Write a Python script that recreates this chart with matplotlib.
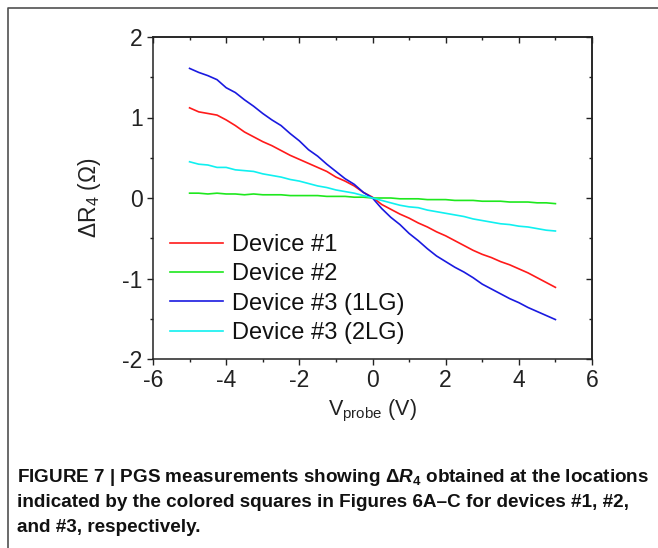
import matplotlib
matplotlib.use("Agg")
import matplotlib.pyplot as plt
from matplotlib.ticker import MultipleLocator
from matplotlib.lines import Line2D

# ---------------- data ----------------
v_probe = [-5.00, -4.75, -4.50, -4.25, -4.00, -3.75, -3.50, -3.25, -3.00, -2.75,
           -2.50, -2.25, -2.00, -1.75, -1.50, -1.25, -1.00, -0.75, -0.50, -0.25,
           0.00, 0.25, 0.50, 0.75, 1.00, 1.25, 1.50, 1.75, 2.00, 2.25,
           2.50, 2.75, 3.00, 3.25, 3.50, 3.75, 4.00, 4.25, 4.50, 4.75, 5.00]

device1 = [1.12, 1.07, 1.05, 1.03, 0.97, 0.90, 0.82, 0.76, 0.70, 0.65,
           0.59, 0.53, 0.48, 0.43, 0.38, 0.33, 0.26, 0.21, 0.15, 0.07,
           0.01, -0.08, -0.14, -0.20, -0.25, -0.31, -0.36, -0.42, -0.47, -0.53,
           -0.59, -0.65, -0.70, -0.74, -0.79, -0.83, -0.88, -0.93, -0.99, -1.05, -1.11]

device2 = [0.06, 0.06, 0.05, 0.06, 0.05, 0.05, 0.04, 0.05, 0.04, 0.04,
           0.04, 0.03, 0.03, 0.03, 0.03, 0.02, 0.02, 0.02, 0.01, 0.01,
           0.00, 0.00, 0.00, -0.01, -0.01, -0.01, -0.02, -0.02, -0.02, -0.03,
           -0.03, -0.03, -0.04, -0.04, -0.04, -0.05, -0.05, -0.05, -0.06, -0.06, -0.07]

device3_1lg = [1.61, 1.56, 1.52, 1.47, 1.37, 1.31, 1.22, 1.14, 1.05, 0.97,
               0.90, 0.80, 0.71, 0.60, 0.52, 0.42, 0.33, 0.24, 0.17, 0.07,
               0.00, -0.13, -0.24, -0.33, -0.44, -0.53, -0.63, -0.72, -0.79, -0.86,
               -0.92, -0.99, -1.07, -1.13, -1.19, -1.25, -1.30, -1.36, -1.41, -1.46, -1.51]

device3_2lg = [0.45, 0.42, 0.41, 0.38, 0.38, 0.35, 0.34, 0.33, 0.30, 0.28,
               0.26, 0.23, 0.21, 0.18, 0.15, 0.13, 0.10, 0.08, 0.06, 0.03,
               0.00, -0.03, -0.06, -0.09, -0.11, -0.12, -0.15, -0.17, -0.19, -0.21,
               -0.23, -0.26, -0.28, -0.30, -0.32, -0.33, -0.35, -0.36, -0.38, -0.40, -0.41]

series_labels = ["Device #1", "Device #2", "Device #3 (1LG)", "Device #3 (2LG)"]
series_colors = ["#ff1a1a", "#1ee81e", "#1a1ae0", "#10f0f0"]

x_ticks = [-6, -4, -2, 0, 2, 4, 6]
y_ticks = [-2, -1, 0, 1, 2]

caption_lines = [
    r"FIGURE 7 | PGS measurements showing Δ$\mathit{R}_{\mathbf{4}}$ obtained at the locations",
    "indicated by the colored squares in Figures 6A–C for devices #1, #2,",
    "and #3, respectively.",
]

# ---------------- fonts ----------------
plt.rcParams["font.family"] = ["Liberation Sans", "DejaVu Sans"]
plt.rcParams["mathtext.fontset"] = "custom"
plt.rcParams["mathtext.rm"] = "Liberation Sans"
plt.rcParams["mathtext.it"] = "Liberation Sans:italic:bold"
plt.rcParams["mathtext.bf"] = "Liberation Sans:bold"

W, H = 658, 548
fig = plt.figure(figsize=(W / 100, H / 100), dpi=100)
ax = fig.add_axes([153 / W, 1 - 359 / H, (592 - 153) / W, (359 - 37) / H])

series = [device1, device2, device3_1lg, device3_2lg]
for ys, lab, col in zip(series, series_labels, series_colors):
    ax.plot(v_probe, ys, color=col, lw=1.2, label=lab)

ink = "#222222"
ax.set_xlim(-6, 6)
ax.set_ylim(-2, 2)
ax.set_xticks(x_ticks)
ax.set_yticks(y_ticks)
ax.set_xticklabels([str(t) for t in x_ticks])
ax.set_yticklabels([str(t) for t in y_ticks])
ax.xaxis.set_minor_locator(MultipleLocator(1))
ax.yaxis.set_minor_locator(MultipleLocator(0.5))
ax.tick_params(which="both", direction="out", top=False, right=False,
               labelsize=16.5, width=1.0, color=ink, labelcolor=ink)
ax.tick_params(which="major", length=4.5, pad=3)
ax.tick_params(which="minor", length=2.3)
for s in ax.spines.values():
    s.set_linewidth(1.1)
    s.set_color(ink)

secx = ax.secondary_xaxis("top")
secx.set_xticks(x_ticks)
secx.xaxis.set_minor_locator(MultipleLocator(1))
secx.tick_params(which="both", direction="in", labeltop=False, width=1.0, color=ink)
secx.tick_params(which="major", length=4.5)
secx.tick_params(which="minor", length=2.3)
secx.spines["top"].set_linewidth(1.1)
secx.spines["top"].set_color(ink)

secy = ax.secondary_yaxis("right")
secy.set_yticks(y_ticks)
secy.yaxis.set_minor_locator(MultipleLocator(0.5))
secy.tick_params(which="both", direction="in", labelright=False, width=1.0, color=ink)
secy.tick_params(which="major", length=4.5)
secy.tick_params(which="minor", length=2.3)
secy.spines["right"].set_linewidth(1.1)
secy.spines["right"].set_color(ink)

ax.set_xlabel(r"V$_{\mathrm{probe}}$ (V)", fontsize=15.5, labelpad=4, color=ink)
ax.set_ylabel(r"ΔR$_{4}$ (Ω)", fontsize=16.5, labelpad=14, color=ink)

leg = ax.legend(loc="center left", bbox_to_anchor=(170 / W, 1 - 289 / H),
                bbox_transform=fig.transFigure, frameon=False, fontsize=17,
                handlelength=2.25, handletextpad=0.38, labelspacing=0.31,
                borderpad=0, borderaxespad=0)
for t in leg.get_texts():
    t.set_color("#111111")

# caption
for i, line in enumerate(caption_lines):
    fig.text(17 / W, 1 - (478 + 24.5 * i) / H, line, fontsize=13.6,
             fontweight="bold", family=["Liberation Sans", "DejaVu Sans"],
             va="center", ha="left", color="#111111")

# frame border (cropped panel)
fig.add_artist(Line2D([7.5 / W, 7.5 / W, 1.0], [0.0, 1 - 8 / H, 1 - 8 / H],
                      transform=fig.transFigure, color="#505050", lw=1.2))

fig.savefig("out.png", dpi=100)
